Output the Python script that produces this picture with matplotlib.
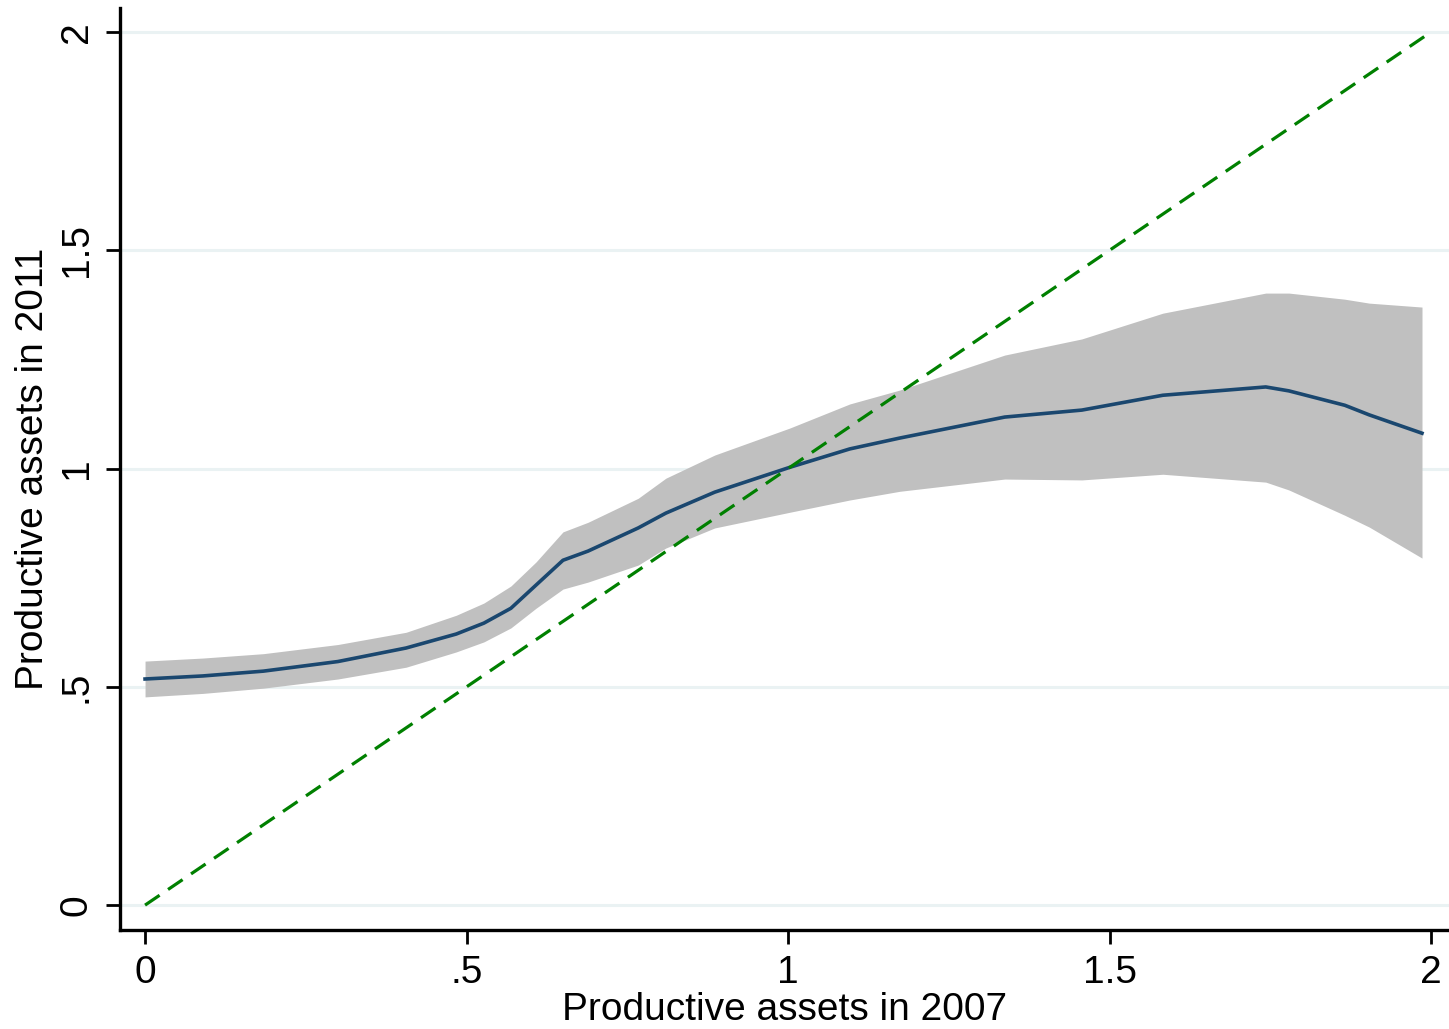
import matplotlib.pyplot as plt

plt.rcParams['font.family'] = ['Liberation Sans', 'DejaVu Sans']

# local polynomial fit of 2011 assets on 2007 assets, with 95% band
assets_2007 = [0.0, 0.09, 0.184, 0.30, 0.406, 0.484, 0.527, 0.569, 0.608,
               0.650, 0.689, 0.767, 0.810, 0.886, 1.003, 1.096, 1.174, 1.337,
               1.457, 1.583, 1.743, 1.779, 1.866, 1.904, 1.986]
fit_2011 = [0.518, 0.525, 0.536, 0.558, 0.589, 0.621, 0.646, 0.680, 0.733,
            0.790, 0.811, 0.864, 0.898, 0.946, 1.003, 1.045, 1.070, 1.118,
            1.134, 1.168, 1.187, 1.178, 1.145, 1.123, 1.081]
ci_upper = [0.559, 0.566, 0.576, 0.597, 0.625, 0.664, 0.692, 0.731, 0.786,
            0.855, 0.877, 0.932, 0.978, 1.031, 1.093, 1.148, 1.180, 1.260,
            1.297, 1.356, 1.402, 1.402, 1.388, 1.379, 1.370]
ci_lower = [0.477, 0.485, 0.497, 0.518, 0.545, 0.580, 0.603, 0.635, 0.680,
            0.724, 0.740, 0.779, 0.818, 0.864, 0.900, 0.928, 0.948, 0.976,
            0.974, 0.987, 0.969, 0.951, 0.893, 0.866, 0.795]

# 45 degree reference line
diag = [0, 2]

tick_vals = [0, 0.5, 1, 1.5, 2]
tick_labels = ["0", ".5", "1", "1.5", "2"]

fig = plt.figure(figsize=(14.49, 10.29), dpi=100)
ax = fig.add_axes([0.0828, 0.0962, 0.9172, 0.8960])

for t in tick_vals:
    ax.axhline(t, color="#eaf2f3", lw=2.2, zorder=0)

ax.fill_between(assets_2007, ci_lower, ci_upper, color="#c0c0c0", lw=0, zorder=1)
ax.plot(assets_2007, fit_2011, color="#1a476f", lw=2.6, zorder=2)
ax.plot(diag, diag, color="#008000", lw=2.3, linestyle=(0, (5.5, 3.2)), zorder=3)

ax.set_xlim(-0.039, 2.028)
ax.set_ylim(-0.057, 2.055)

ax.set_xticks(tick_vals)
ax.set_xticklabels(tick_labels)
ax.set_yticks(tick_vals)
ax.set_yticklabels(tick_labels, rotation=90, va="center")

ax.tick_params(axis="both", labelsize=28, length=10, width=2.0, pad=8)
for side in ["top", "right"]:
    ax.spines[side].set_visible(False)
for side in ["left", "bottom"]:
    ax.spines[side].set_linewidth(2.4)

ax.set_xlabel("Productive assets in 2007", fontsize=28, labelpad=1)
ax.set_ylabel("Productive assets in 2011", fontsize=28, labelpad=6)

fig.savefig("out.png", dpi=100)
